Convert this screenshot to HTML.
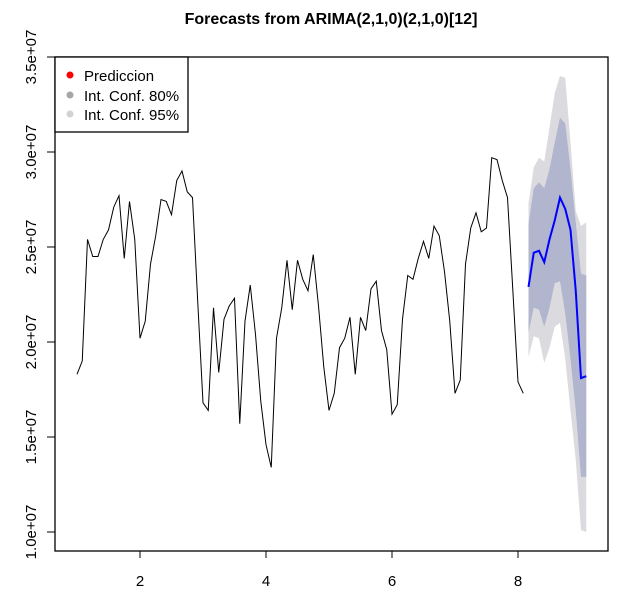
<!DOCTYPE html>
<html><head><meta charset="utf-8"><style>
body{margin:0;background:#fff;}
svg{display:block;font-family:"Liberation Sans",Arial,sans-serif;}
</style></head><body>
<svg id="chart" width="628" height="605" viewBox="0 0 628 605" xmlns="http://www.w3.org/2000/svg">
<rect width="628" height="605" fill="#fff"/>
<text x="331" y="24" text-anchor="middle" font-weight="bold" font-size="16">Forecasts from ARIMA(2,1,0)(2,1,0)[12]</text>
<g id="bands"></g>
<g id="lines"></g>
<rect x="55" y="57" width="553" height="494" fill="none" stroke="#000" stroke-width="1.3"/>
<g id="axes"></g>
<g>
<rect x="55" y="57" width="133" height="75" fill="#fff" stroke="#000" stroke-width="1.3"/>
<circle cx="70" cy="75" r="3.5" fill="#ff0000"/>
<text x="84" y="81" font-size="15">Prediccion</text>
<circle cx="70" cy="95" r="3.5" fill="#a6a6a6"/>
<text x="84" y="101" font-size="15">Int. Conf. 80%</text>
<circle cx="70" cy="114" r="3.5" fill="#d3d3d3"/>
<text x="84" y="120" font-size="15">Int. Conf. 95%</text>
</g>
</svg>
<script>
const observed = [18.3,19.0,25.4,24.5,24.5,25.4,25.9,27.1,27.7,24.4,27.4,25.4,
20.2,21.1,24.1,25.6,27.5,27.4,26.7,28.5,29.0,27.9,27.6,22.1,
16.8,16.4,21.8,18.4,21.2,21.9,22.3,15.7,21.1,23.0,20.4,16.9,
14.6,13.4,20.2,21.8,24.3,21.7,24.3,23.3,22.7,24.6,21.9,18.7,
16.4,17.3,19.7,20.2,21.3,18.3,21.3,20.6,22.8,23.2,20.6,19.6,
16.2,16.7,21.2,23.5,23.3,24.4,25.3,24.4,26.1,25.6,23.7,21.1,
17.3,18.0,24.1,26.0,26.8,25.8,26.0,29.7,29.6,28.5,27.6,22.8,17.9,17.3];
const forecast = [22.9,24.7,24.8,24.2,25.4,26.4,27.6,27.0,25.9,22.7,18.1,18.2];
const upper80 = [26.2,28.1,28.4,28.1,29.1,30.5,31.8,31.5,29.1,26.3,23.6,23.5];
const lower80 = [20.5,21.8,21.7,20.8,21.8,23.1,23.2,21.5,19.1,16.4,12.9,12.9];
const upper95 = [27.3,29.2,29.7,29.5,31.3,33.1,34.0,33.9,30.5,26.9,26.1,26.3];
const lower95 = [19.2,20.3,20.2,18.9,19.7,20.8,21.0,19.1,16.4,13.8,10.1,10.0];
const xTicks = [2,4,6,8];
const yTicks = [10,15,20,25,30,35];
const yTickLabels = ["1.0e+07","1.5e+07","2.0e+07","2.5e+07","3.0e+07","3.5e+07"];

const NS="http://www.w3.org/2000/svg";
function xs(t){return 140+(t-2)*63;}
function ys(v){return 532-(v-10)*19;}
function mk(tag,attrs,parent){const e=document.createElementNS(NS,tag);for(const k in attrs)e.setAttribute(k,attrs[k]);parent.appendChild(e);return e;}
const bands=document.getElementById('bands'),lines=document.getElementById('lines'),axes=document.getElementById('axes');
const ft=forecast.map((_,i)=>1+(observed.length+i)/12);
function bandPts(up,lo){const a=up.map((v,i)=>xs(ft[i])+','+ys(v));const b=lo.map((v,i)=>xs(ft[i])+','+ys(v)).reverse();return a.concat(b).join(' ');}
const b95=mk('polygon',{points:bandPts(upper95,lower95),fill:'#dbdbdf'},bands);


const b80=mk('polygon',{points:bandPts(upper80,lower80),fill:'#b1b5ce'},bands);


const ol=mk('polyline',{points:observed.map((v,i)=>xs(1+i/12)+','+ys(v)).join(' '),fill:'none',stroke:'#000','stroke-width':1},lines);


const fl=mk('polyline',{points:forecast.map((v,i)=>xs(ft[i])+','+ys(v)).join(' '),fill:'none',stroke:'#0000ff','stroke-width':2},lines);


xTicks.forEach(t=>{
  const l=mk('line',{x1:xs(t),x2:xs(t),y1:551,y2:558,stroke:'#000'},axes);
  
  
  const tx=mk('text',{x:xs(t),y:586,'text-anchor':'middle','font-size':15},axes);
  
  
  tx.textContent=t;
});
yTicks.forEach((v,i)=>{
  const l=mk('line',{x1:47,x2:55,y1:ys(v),y2:ys(v),stroke:'#000'},axes);
  
  
  const tx=mk('text',{x:0,y:0,'text-anchor':'middle','font-size':15,transform:'translate(36,'+ys(v)+') rotate(-90)'},axes);
  
  
  tx.textContent=yTickLabels[i];
});
</script>
</body></html>
